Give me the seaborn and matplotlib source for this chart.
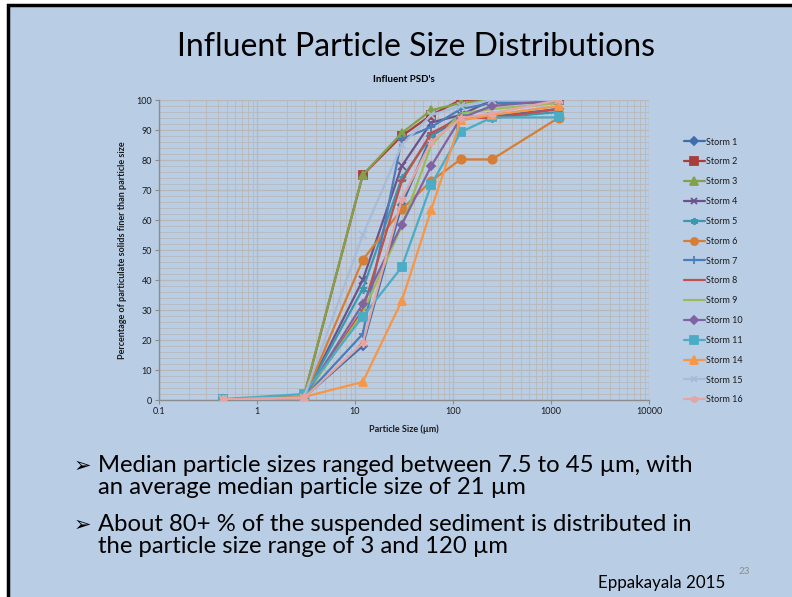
import matplotlib
matplotlib.use("Agg")
import matplotlib.pyplot as plt
import seaborn as sns
import numpy as np
import pandas as pd
from matplotlib.ticker import LogLocator, MultipleLocator, FixedLocator, FuncFormatter
from matplotlib.patches import Rectangle

# ---------------- data ----------------
sizes = [0.45, 3, 12, 30, 60, 120, 250, 1200]
storm_names = ["Storm 1", "Storm 2", "Storm 3", "Storm 4", "Storm 5", "Storm 6", "Storm 7",
               "Storm 8", "Storm 9", "Storm 10", "Storm 11", "Storm 14", "Storm 15", "Storm 16"]
storm1 = [0.2, 0.8, 18, 65, 88, 94, 94.5, 97]
storm2 = [0.2, 1.0, 75, 88, 95, 100, 100, 100]
storm3 = [0.2, 1.2, 75, 89, 96.6, 99, 100, 100]
storm4 = [0.2, 0.8, 40, 78, 92.5, 95, 100, 100]
storm5 = [0.2, 1.0, 37, 74, 88, 95, 94, 96]
storm6 = [0.2, 0.5, 46.7, 63.6, 73, 80.2, 80.2, 94.1]
storm7 = [0.2, 0.8, 22, 87, 91, 97, 99, 99]
storm8 = [0.2, 0.8, 30, 73, 89, 94, 94, 97]
storm9 = [0.2, 0.8, 29, 58, 85, 95.5, 97, 99]
storm10 = [0.2, 0.8, 32, 58.5, 78, 94, 98, 100]
storm11 = [0.3, 2.0, 27.8, 44.3, 71.8, 89.3, 94.2, 94.2]
storm14 = [0.0, 1.0, 6, 33, 63.5, 93.2, 95, 98]
storm15 = [0.2, 0.8, 55, 85, 95, 98, 100, 100]
storm16 = [0.2, 0.6, 19, 67, 86, 94, 95.5, 100]
storm_values = [storm1, storm2, storm3, storm4, storm5, storm6, storm7,
                storm8, storm9, storm10, storm11, storm14, storm15, storm16]

x_ticks = [0.1, 1, 10, 100, 1000, 10000]
x_tick_labels = ["0.1", "1", "10", "100", "1000", "10000"]
y_ticks = [0, 10, 20, 30, 40, 50, 60, 70, 80, 90, 100]

title = "Influent Particle Size Distributions"
chart_title = "Influent PSD's"
x_label = "Particle Size (µm)"
y_label = "Percentage of particulate solids finer than particle size"
bullets = ["Median particle sizes ranged between 7.5 to 45 µm, with\nan average median particle size of 21 µm",
           "About 80+ % of the suspended sediment is distributed in\nthe particle size range of 3 and 120 µm"]
citation = "Eppakayala 2015"
slide_no = "23"

# ---------------- style ----------------
colors = ["#3F6EAA", "#A83E3C", "#83A14A", "#6C518C", "#3A98AF", "#D77E35", "#4A7EBB",
          "#C0504D", "#9BBB59", "#8064A2", "#4BACC6", "#F79646", "#A8BBD8", "#E6A5A3"]
ast = (6, 2, 0)
markers = ["D", "s", "^", "x", ast, "o", "+", "_", None, "D", "s", "^", "x", ast]
msizes = [4.5, 6, 6, 5.5, 6, 6, 6, 6, 0, 4.5, 6, 6, 5.5, 6]

bg = "#B9CDE5"
sns.set_theme(style="white")
plt.rcParams["font.family"] = ["Lato", "DejaVu Sans"]

fig = plt.figure(figsize=(7.92, 5.97), dpi=100, facecolor="white")
fig.patches.append(Rectangle((8/792, -0.01), 1, 1 - 5/597 + 0.01, transform=fig.transFigure,
                             facecolor=bg, edgecolor="black", linewidth=2.5, zorder=-10))

ax = fig.add_axes([159/792, 1 - 400/597, 490/792, 300/597])
ax.set_zorder(2)
ax.set_facecolor(bg)
ax.set_xscale("log")

for name, vals, c, m, ms in zip(storm_names, storm_values, colors, markers, msizes):
    df = pd.DataFrame({"size": sizes, "pct": vals})
    kw = dict(marker=m, markersize=ms, markeredgecolor=c, markerfacecolor=c,
              markeredgewidth=1.3) if m is not None else {}
    sns.lineplot(data=df, x="size", y="pct", ax=ax, color=c, linewidth=1.6,
                 label=name, sort=False, **kw, zorder=3)

ax.set_xlim(0.1, 10000)
ax.set_ylim(0, 100)
ax.xaxis.set_major_locator(FixedLocator(x_ticks))
ax.xaxis.set_major_formatter(FuncFormatter(lambda v, p: x_tick_labels[x_ticks.index(v)] if v in x_ticks else ""))
ax.xaxis.set_minor_locator(LogLocator(base=10, subs=np.arange(2, 10)))
ax.xaxis.set_minor_formatter(FuncFormatter(lambda v, p: ""))
ax.yaxis.set_major_locator(FixedLocator(y_ticks))
ax.yaxis.set_minor_locator(MultipleLocator(2))

gc = "#B8B8B8"
ax.grid(True, which="major", color=gc, linewidth=0.9, zorder=1)
ax.grid(True, which="minor", color=gc, linewidth=0.6, zorder=1)
ax.set_axisbelow(True)
for s in ["top", "right"]:
    ax.spines[s].set_visible(False)
for s in ["left", "bottom"]:
    ax.spines[s].set_color("#8C8C8C")
    ax.spines[s].set_linewidth(1.0)
ax.tick_params(axis="both", which="major", labelsize=6.5, colors="#8C8C8C",
               labelcolor="#1A1A1A", length=3, width=0.8, direction="out", pad=2,
               bottom=True, left=True)
ax.tick_params(axis="both", which="minor", length=0)

ax.set_xlabel(x_label, fontsize=6.5, fontweight="bold", labelpad=6, color="#1A1A1A")
ax.set_ylabel(y_label, fontsize=6.5, fontweight="bold", labelpad=7, color="#1A1A1A")

leg = ax.legend(loc="upper left", bbox_to_anchor=(680/792, 1 - 134/597),
                bbox_transform=fig.transFigure, frameon=False, fontsize=6.5,
                handlelength=2.4, handletextpad=0.1, labelspacing=1.2, borderaxespad=0,
                markerscale=0.85)
for t in leg.get_texts():
    t.set_color("#1A1A1A")

fig.text(416/792, 1 - 47/597, title, ha="center", va="center", fontsize=23, color="black")
fig.text(404/792, 1 - 80/597, chart_title, ha="center", va="center", fontsize=7,
         fontweight="bold", color="black")

yb = [466, 525]
for b, y in zip(bullets, yb):
    fig.text(74/792, 1 - y/597, "➢", ha="left", va="center", fontsize=15,
             family=["DejaVu Sans"], color="black")
    fig.text(98/792, 1 - (y - 11)/597, b, ha="left", va="top", fontsize=17.2,
             color="black", linespacing=1.03)

fig.text(725/792, 1 - 583/597, citation, ha="right", va="center", fontsize=12.2, color="black")
fig.text(744/792, 1 - 572/597, slide_no, ha="center", va="center", fontsize=7, color="#8C8C8C")

fig.savefig("out.png", dpi=100, facecolor="white")
